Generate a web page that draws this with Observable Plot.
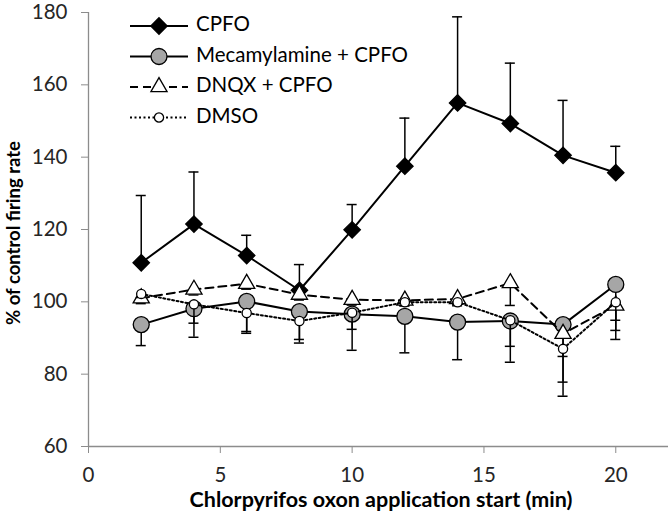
<!DOCTYPE html>
<html><head><meta charset="utf-8">
<script src="https://cdn.jsdelivr.net/npm/d3@7"></script>
<script src="https://cdn.jsdelivr.net/npm/@observablehq/plot@0.6"></script>
<style>
body{margin:0;background:#fff}
#chart{width:668px;height:519px}
</style>
</head><body><div id="chart"></div>
<script>
// ---- data ----
const times = [2, 4, 6, 8, 10, 12, 14, 16, 18, 20];
const seriesNames = ["CPFO", "Mecamylamine + CPFO", "DNQX + CPFO", "DMSO"];
const cpfo     = [110.8, 121.5, 112.8, 103.2, 119.9, 137.5, 155.0, 149.3, 140.5, 135.7];
const cpfoErr  = [18.6, 14.4, 5.6, 7.1, 7.0, 13.3, 23.8, 16.7, 15.2, 7.3];   // upper bars
const mec      = [93.7, 98.1, 100.1, 97.3, 96.6, 96.0, 94.4, 94.7, 93.7, 104.8];
const mecErr   = [5.8, 7.9, 8.8, 8.7, 10.0, 10.1, 10.4, 11.4, 8.8, 15.2];     // lower bars
const dnqx     = [101.0, 103.4, 105.0, 102.0, 100.6, 100.4, 100.8, 105.2, 91.2, 99.0];
const dnqxErr  = [1.5, 1.5, 1.5, 1.5, 1.5, 1.5, 1.5, 6.2, 13.4, 4.1];        // lower bars
const dmso     = [102.2, 99.3, 96.9, 94.7, 97.0, 99.9, 99.9, 94.9, 87.0, 99.9];
const dmsoErr  = [1.0, 5.2, 5.1, 5.1, 4.6, 1.0, 1.0, 7.2, 13.1, 7.8];        // lower bars
const xTicks = [0, 5, 10, 15, 20];
const yTicks = [60, 80, 100, 120, 140, 160, 180];
const xDomain = [0, 22];
const yDomain = [60, 180];
const xTitle = "Chlorpyrifos oxon application start (min)";
const yTitle = "% of control firing rate";

// ---- styles per series ----
const styles = [
  {values: cpfo, err: cpfoErr, dir: 1,  symbol: "diamond2", d3sym: d3.symbolDiamond2, r: 7.4, fill: "#000", dash: null},
  {values: mec,  err: mecErr,  dir: -1, symbol: "circle",   d3sym: d3.symbolCircle,   r: 8,   fill: "#a6a6a6", dash: null},
  {values: dnqx, err: dnqxErr, dir: -1, symbol: "triangle", d3sym: d3.symbolTriangle, r: 6,   fill: "#fff", dash: "8,5"},
  {values: dmso, err: dmsoErr, dir: -1, symbol: "circle",   d3sym: d3.symbolCircle,   r: 4.6, fill: "#fff", dash: "2,2.5"}
];

const capHalf = 0.19;
const marks = [
  Plot.ruleY([yDomain[0]], {stroke: "#8c8c8c", strokeWidth: 1.3}),
  Plot.ruleX([xDomain[0]], {y1: yDomain[0], y2: yDomain[1], stroke: "#8c8c8c", strokeWidth: 1.3}),
  Plot.axisX({ticks: xTicks, tickSize: 7, tickPadding: 14, stroke: "#8c8c8c", fill: "#262626", fontSize: 20.5, label: null}),
  Plot.axisY({ticks: yTicks, tickSize: 7, tickPadding: 14, stroke: "#8c8c8c", fill: "#262626", fontSize: 20.5, label: null})
];

styles.forEach((s, i) => {
  const rows = times.map((t, j) => ({x: t, y: s.values[j], b: s.values[j] + s.dir * s.err[j], name: seriesNames[i]}));
  marks.push(Plot.line(rows, {x: "x", y: "y", stroke: "#000", strokeWidth: 2, strokeDasharray: s.dash}));
  marks.push(Plot.ruleX(rows, {x: "x", y1: "y", y2: "b", stroke: "#000", strokeWidth: 1.5}));
  marks.push(Plot.ruleY(rows, {y: "b", x1: d => d.x - capHalf, x2: d => d.x + capHalf, stroke: "#000", strokeWidth: 1.5}));
  marks.push(Plot.dot(rows, {x: "x", y: "y", symbol: s.symbol, r: s.r, fill: s.fill, stroke: "#000", strokeWidth: 1.3}));
});

const plot = Plot.plot({
  width: 668, height: 519,
  marginLeft: 88, marginRight: 0, marginTop: 12, marginBottom: 73,
  x: {domain: xDomain},
  y: {domain: yDomain},
  style: {fontFamily: "Lato, 'Open Sans', sans-serif", fontSize: "18px", background: "#fff", color: "#000"},
  marks
});
document.getElementById("chart").appendChild(plot);

// ---- titles and legend ----
const svg = d3.select(plot);
svg.append("text").attr("transform", "translate(15,233) rotate(-90)")
  .attr("text-anchor", "middle").attr("dominant-baseline", "middle")
  .attr("font-weight", "bold").attr("font-size", 18.5).attr("fill", "#000").text(yTitle);
svg.append("text").attr("x", 381).attr("y", 501)
  .attr("text-anchor", "middle").attr("dominant-baseline", "middle")
  .attr("font-weight", "bold").attr("font-size", 21.5).attr("fill", "#000").text(xTitle);

const lg = svg.append("g");
styles.forEach((s, i) => {
  const y = 26 + 30.5 * i;
  lg.append("line").attr("x1", 130).attr("x2", 188).attr("y1", y).attr("y2", y)
    .attr("stroke", "#000").attr("stroke-width", 2).attr("stroke-dasharray", s.dash);
  lg.append("path").attr("transform", `translate(159,${y})`)
    .attr("d", d3.symbol(s.d3sym, Math.PI * s.r * s.r)())
    .attr("fill", s.fill).attr("stroke", "#000").attr("stroke-width", 1.3);
  lg.append("text").attr("x", 196).attr("y", y).attr("dominant-baseline", "middle")
    .attr("text-anchor", "start")
    .attr("font-size", 20.5).attr("fill", "#000").text(seriesNames[i]);
});
</script>
</body></html>
